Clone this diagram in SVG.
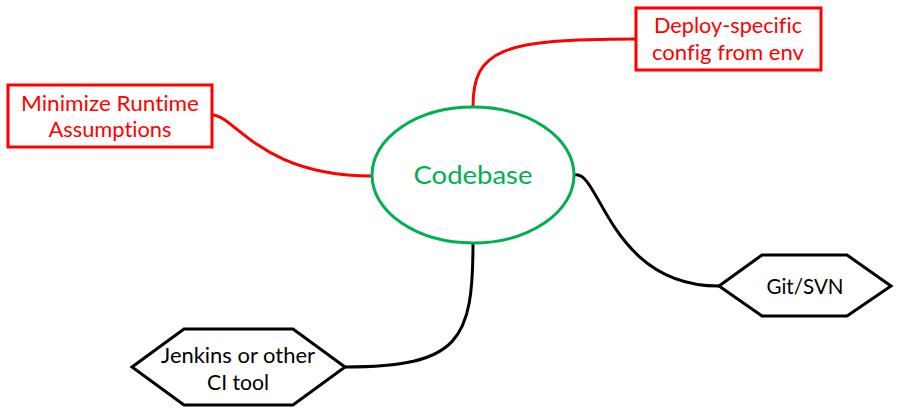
<svg xmlns="http://www.w3.org/2000/svg" width="899" height="416" viewBox="0 0 899 416">
<style>
text{font-family:Lato,"Open Sans","Liberation Sans",sans-serif;text-anchor:middle;font-variant-ligatures:none}
.red{fill:#fff;stroke:#ff0000;stroke-width:3}
.redt{fill:#ff0000;font-size:21.5px}
.hex{fill:#fff;stroke:#000;stroke-width:3;stroke-linejoin:miter}
.hext{fill:#000;font-size:21.5px}
.c{fill:none;stroke-width:3}
</style>
<rect width="899" height="416" fill="#fff"/>
<g id="connectors">
<path class="c" stroke="#ff0000" d="M212,115 C235,115 260,176 372,176"/>
<path class="c" stroke="#ff0000" d="M636,39 C500,39 473,50 473,107"/>
<path class="c" stroke="#000" d="M575,175 C600,170 610,286 719,286"/>
<path class="c" stroke="#000" d="M473,243 C473,340 460,367 345,367"/>
</g>
<g id="codebase">
<ellipse cx="473" cy="175" rx="101" ry="68" fill="#fff" stroke="#00b050" stroke-width="3"/>
<text x="473" y="184" fill="#00b050" font-size="25" textLength="119" lengthAdjust="spacingAndGlyphs">Codebase</text>
</g>
<g id="minimize">
<rect class="red" x="8" y="85" width="204" height="62"/>
<text class="redt" x="110" y="111" textLength="178" lengthAdjust="spacingAndGlyphs">Minimize Runtime</text>
<text class="redt" x="110" y="137" textLength="123" lengthAdjust="spacingAndGlyphs">Assumptions</text>
</g>
<g id="deploy">
<rect class="red" x="636" y="8" width="185" height="62"/>
<text class="redt" x="728" y="33" textLength="148" lengthAdjust="spacingAndGlyphs">Deploy-specific</text>
<text class="redt" x="728" y="60" textLength="152" lengthAdjust="spacingAndGlyphs">config from env</text>
</g>
<g id="git">
<polygon class="hex" points="719,286 762,255 847,255 891,286 847,316 762,316"/>
<text class="hext" x="805" y="294" textLength="77" lengthAdjust="spacingAndGlyphs">Git/SVN</text>
</g>
<g id="jenkins">
<polygon class="hex" points="132,367 184,329 293,329 345,367 293,405 184,405"/>
<text class="hext" x="238" y="363" textLength="154" lengthAdjust="spacingAndGlyphs">Jenkins or other</text>
<text class="hext" x="238" y="390" textLength="62" lengthAdjust="spacingAndGlyphs">CI tool</text>
</g>
</svg>
